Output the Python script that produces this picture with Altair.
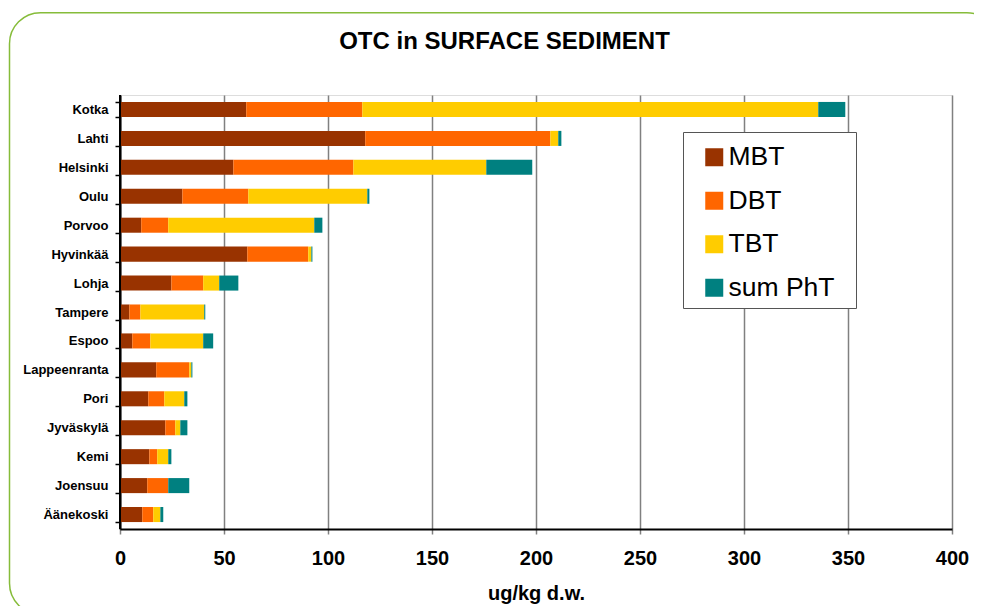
import altair as alt
import pandas as pd

cities = ["Kotka", "Lahti", "Helsinki", "Oulu", "Porvoo", "Hyvinkää", "Lohja",
          "Tampere", "Espoo", "Lappeenranta", "Pori", "Jyväskylä", "Kemi",
          "Joensuu", "Äänekoski"]
compounds = ["MBT", "DBT", "TBT", "sum PhT"]
colors = ["#993300", "#FF6600", "#FFCC00", "#008080"]
title_text = "OTC in SURFACE SEDIMENT"

mbt = [60.7, 117.9, 54.5, 30.0, 10.2, 61.2, 24.7, 4.5, 5.9, 17.4, 13.6, 21.8, 14.1, 13.1, 10.7]
dbt = [55.8, 89.0, 57.7, 31.7, 13.0, 29.3, 15.3, 5.3, 8.7, 15.9, 7.7, 4.8, 3.8, 10.1, 5.3]
tbt = [219.2, 3.8, 63.9, 57.2, 70.2, 1.5, 7.7, 30.7, 25.4, 1.0, 9.6, 2.4, 5.3, 0.0, 3.4]
pht = [13.0, 1.5, 22.1, 1.0, 3.9, 0.5, 9.2, 0.5, 4.8, 0.5, 1.5, 3.4, 1.5, 10.1, 1.4]

series = [mbt, dbt, tbt, pht]
rows = []
for ci, (name, vals) in enumerate(zip(compounds, series)):
    for city, v in zip(cities, vals):
        rows.append({"city": city, "compound": name, "value": v, "order": ci})
df = pd.DataFrame(rows)

FONT = "Liberation Sans"

# decorative rounded frame (pixel space, relative to plot origin)
frame = alt.Chart(alt.Data(values=[{}])).mark_rect(
    fill="white", fillOpacity=0, stroke="#86bc3a", strokeWidth=1.5, cornerRadius=31
).encode(
    x=alt.value(-110.5), x2=alt.value(877.8), y=alt.value(-82.3), y2=alt.value(519.3)
)

title = alt.Chart(alt.Data(values=[{}])).mark_text(
    font=FONT, fontSize=24, fontWeight="bold", color="black",
    align="center", baseline="alphabetic"
).encode(x=alt.value(384.5), y=alt.value(-46), text=alt.value(title_text))

bars = alt.Chart(df).mark_bar().encode(
    x=alt.X("value:Q", stack="zero",
            scale=alt.Scale(domain=[0, 400], nice=False),
            axis=alt.Axis(values=list(range(0, 401, 50)), title="ug/kg d.w.",
                          grid=True, gridColor="#808080", gridWidth=1.5,
                          domainColor="black", domainWidth=2,
                          tickColor="#808080", tickSize=5, tickWidth=1.5,
                          labelFont=FONT, labelFontSize=20, labelFontWeight="bold",
                          labelColor="black", labelPadding=14, labelFlush=False,
                          titleFont=FONT, titleFontSize=20, titleFontWeight="bold",
                          titleColor="black", titlePadding=15)),
    y=alt.Y("city:N", sort=cities, title=None,
            scale=alt.Scale(paddingInner=0.48, paddingOuter=0.24),
            axis=alt.Axis(tickBand="extent", grid=False,
                          domainColor="black", domainWidth=2,
                          tickColor="black", tickSize=5, tickWidth=1.5,
                          labelFont=FONT, labelFontSize=13, labelFontWeight="bold",
                          labelColor="black", labelPadding=7)),
    color=alt.Color("compound:N",
                    scale=alt.Scale(domain=compounds, range=colors),
                    legend=alt.Legend(title=None, orient="none", legendX=581, legendY=49,
                                      padding=0, rowPadding=16.5,
                                      symbolType="square", symbolSize=324,
                                      symbolStrokeWidth=0, labelOffset=1,
                                      labelFont=FONT, labelFontSize=26.5,
                                      labelColor="black", labelLimit=300)),
    order=alt.Order("order:Q", sort="ascending"),
)

axis_line = alt.Chart(alt.Data(values=[{"v": 0}])).mark_rule(
    color="black", strokeWidth=2
).encode(x=alt.X("v:Q"))

legend_box = alt.Chart(alt.Data(values=[{}])).mark_rect(
    fill="white", stroke="#555555", strokeWidth=1
).encode(
    x=alt.value(563.5), x2=alt.value(736.5), y=alt.value(37.5), y2=alt.value(213.5)
)

chart = alt.layer(frame, title, bars, axis_line, legend_box).properties(
    width=832, height=434,
    autosize=alt.AutoSizeParams(type="none"),
    padding={"left": 112, "top": 87, "right": 22, "bottom": 77},
).configure_view(stroke="black", strokeWidth=2).configure(background="white")

chart.save("out.html", embed_options={"renderer": "svg", "actions": False})
